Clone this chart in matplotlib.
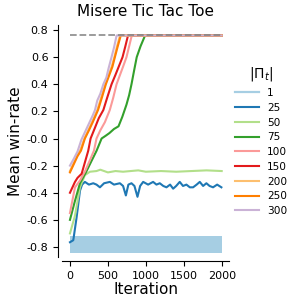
import matplotlib
matplotlib.use('Agg')
import matplotlib.pyplot as plt
import numpy as np

# population sizes |Pi_t| and Paired palette colours
sizes = ['1', '25', '50', '75', '100', '150', '200', '250', '300']
colors = ['#a6cee3', '#1f78b4', '#b2df8a', '#33a02c', '#fb9a99',
          '#e31a1c', '#fdbf6f', '#ff7f00', '#cab2d6']

optimum = 0.76

# size 1: flat noisy band
band_x = [0, 2000]
band_lo = [-0.846, -0.846]
band_hi = [-0.716, -0.716]

# size 25: noisy plateau
x25 = [0, 44, 88, 132, 160, 197, 250, 307, 350, 395, 450, 526, 580, 658,
       700, 737, 770, 811, 850, 890, 925, 965, 1030, 1096, 1140, 1184, 1230,
       1272, 1320, 1360, 1400, 1447, 1490, 1535, 1580, 1623, 1670, 1711,
       1755, 1798, 1840, 1886, 1940, 1996]
y25 = [-0.765, -0.75, -0.58, -0.385, -0.34, -0.32, -0.34, -0.33, -0.34,
       -0.36, -0.33, -0.32, -0.34, -0.33, -0.35, -0.42, -0.34, -0.33, -0.35,
       -0.43, -0.35, -0.32, -0.34, -0.32, -0.34, -0.33, -0.35, -0.36, -0.34,
       -0.37, -0.35, -0.32, -0.35, -0.34, -0.36, -0.36, -0.34, -0.32, -0.35,
       -0.33, -0.35, -0.36, -0.34, -0.36]

# size 50: quick rise to plateau
x50 = [0, 66, 132, 197, 263, 350, 400, 500, 600, 700, 800, 900, 1000, 1200,
       1400, 1600, 1800, 2000]
y50 = [-0.70, -0.57, -0.36, -0.27, -0.245, -0.24, -0.23, -0.25, -0.24,
       -0.245, -0.24, -0.235, -0.245, -0.24, -0.245, -0.24, -0.235, -0.24]

# sizes 75..300: climb to the optimum
x75 = [0, 66, 132, 219, 280, 351, 417, 470, 520, 580, 640, 690, 745, 780,
       811, 845, 880, 930, 990, 2000]
y75 = [-0.60, -0.46, -0.33, -0.24, -0.17, -0.09, 0.0, 0.02, 0.04, 0.07,
       0.09, 0.16, 0.25, 0.32, 0.40, 0.50, 0.60, 0.68, 0.76, 0.76]

x100 = [0, 66, 132, 200, 263, 316, 350, 400, 460, 525, 570, 614, 660, 700,
        745, 780, 815, 2000]
y100 = [-0.55, -0.36, -0.31, -0.24, -0.16, -0.09, 0.0, 0.06, 0.12, 0.21,
        0.30, 0.40, 0.47, 0.53, 0.60, 0.68, 0.76, 0.76]

x150 = [0, 66, 100, 154, 200, 241, 272, 330, 380, 440, 490, 548, 600, 650,
        693, 730, 765, 2000]
y150 = [-0.40, -0.32, -0.29, -0.26, -0.17, -0.09, 0.0, 0.08, 0.15, 0.21,
        0.30, 0.40, 0.47, 0.54, 0.60, 0.68, 0.76, 0.76]

x200 = [0, 50, 100, 140, 190, 240, 290, 360, 410, 465, 510, 550, 585, 620,
        660, 2000]
y200 = [-0.24, -0.18, -0.12, -0.08, 0.0, 0.06, 0.12, 0.21, 0.30, 0.40,
        0.47, 0.53, 0.60, 0.68, 0.76, 0.76]

x250 = [0, 50, 100, 145, 197, 250, 300, 370, 420, 473, 520, 560, 592, 630,
        670, 2000]
y250 = [-0.25, -0.19, -0.13, -0.09, 0.0, 0.06, 0.12, 0.21, 0.30, 0.40,
        0.47, 0.53, 0.60, 0.68, 0.76, 0.76]

x300 = [0, 50, 100, 150, 200, 250, 300, 330, 360, 400, 440, 480, 510, 548,
        580, 615, 2000]
y300 = [-0.20, -0.15, -0.095, -0.01, 0.05, 0.11, 0.17, 0.21, 0.28, 0.33,
        0.40, 0.45, 0.52, 0.60, 0.67, 0.76, 0.76]

series = [(x25, y25), (x50, y50), (x75, y75), (x100, y100), (x150, y150),
          (x200, y200), (x250, y250), (x300, y300)]

fig = plt.figure(figsize=(2.97, 3.04), dpi=100)
ax = fig.add_axes([0.21, 0.1546, 0.562, 0.7644])

ax.fill_between(band_x, band_lo, band_hi, color=colors[0], lw=0)
handles = [plt.Line2D([], [], color=colors[0], lw=1.6)]
for (xs, ys), c in zip(series, colors[1:]):
    h, = ax.plot(xs, ys, color=c, lw=1.5)
    handles.append(h)

ax.plot([0, 2000], [optimum, optimum], ls='--', color='grey', lw=1.3, alpha=0.85)

ax.set_xlim(-100, 2100)
ax.set_ylim(-0.874, 0.84)
ax.set_xticks([0, 500, 1000, 1500, 2000])
ax.set_yticks(np.round(np.arange(-0.8, 0.81, 0.2), 1))
ax.yaxis.set_major_formatter(matplotlib.ticker.FormatStrFormatter('%.1f'))
ax.tick_params(labelsize=8, length=3.5, width=0.8)
for s in ['top', 'right']:
    ax.spines[s].set_visible(False)
ax.spines['left'].set_position(('outward', 3))
ax.spines['bottom'].set_position(('outward', 3))

ax.set_title('Misere Tic Tac Toe', fontsize=11)
ax.set_xlabel('Iteration', fontsize=11, labelpad=1)
ax.set_ylabel('Mean win-rate', fontsize=11, labelpad=3)

leg = ax.legend(handles, sizes, title=r'$|\Pi_t|$', loc='center left',
                bbox_to_anchor=(0.98, 0.5), frameon=False, fontsize=7.6,
                title_fontsize=10, handlelength=2.2, labelspacing=0.45)

fig.savefig('out.png', dpi=100)
